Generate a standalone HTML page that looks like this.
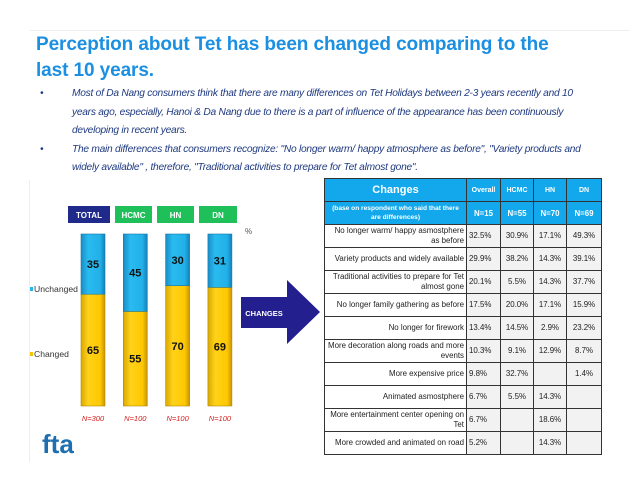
<!DOCTYPE html>
<html><head><meta charset="utf-8"><style>
body{margin:0;width:638px;height:493px;background:#fff;font-family:"Liberation Sans",sans-serif;position:relative;overflow:hidden}
.abs{position:absolute}
#title{left:36px;top:32px;font-size:19px;font-weight:bold;color:#1b8fe2;line-height:26px;width:550px;letter-spacing:-0.1px}
#bul{left:40px;top:85px;width:556px;font-size:10.2px;font-style:italic;color:#1f3a80;line-height:18.6px;letter-spacing:-0.25px}
#bul div{position:relative;padding-left:32px}
#bul div span{position:absolute;left:0}
table{border-collapse:collapse;font-size:7.9px;color:#222;table-layout:fixed}
td{border:1px solid #333;padding:0 2px;height:22px;overflow:hidden}
.h td{background:#13a8ec;color:#fff;font-weight:bold;text-align:center}
</style></head><body>
<div class="abs" style="left:30px;top:30px;width:600px;height:1px;background:#eee"></div>
<div class="abs" style="left:29px;top:180px;width:1px;height:282px;background:#eee"></div>
<div id="title" class="abs">Perception about Tet has been changed comparing to the last 10 years.</div>
<div id="bul" class="abs">
<div><span>•</span>Most of Da Nang consumers think that there are many differences on Tet Holidays between 2-3 years recently and 10 years ago, especially, Hanoi &amp; Da Nang due to there is a part of influence of the appearance has been continuously developing in recent years.</div>
<div><span>•</span>The main differences that consumers recognize: "No longer warm/ happy atmosphere as before", "Variety products and widely available" , therefore, "Traditional activities to prepare for Tet almost gone".</div>
</div>
<svg class="abs" style="left:0;top:0" width="638" height="493" id="chart">
<defs>
<linearGradient id="gy" x1="0" x2="1"><stop offset="0" stop-color="#d9a800"/><stop offset=".3" stop-color="#ffd21a"/><stop offset=".8" stop-color="#ffc800"/><stop offset="1" stop-color="#c89400"/></linearGradient>
<linearGradient id="gb" x1="0" x2="1"><stop offset="0" stop-color="#1a8cc8"/><stop offset=".3" stop-color="#29bbf0"/><stop offset=".8" stop-color="#22b0e8"/><stop offset="1" stop-color="#1480b8"/></linearGradient>
</defs>
<g id="bars"></g>
<text x="245" y="234" font-size="8" fill="#555">%</text>
<rect x="30" y="287" width="3" height="4" fill="#29b6ee"/>
<text x="34" y="292" font-size="8.6" fill="#333">Unchanged</text>
<rect x="30" y="352" width="3" height="4" fill="#f5c400"/>
<text x="34" y="357" font-size="8.6" fill="#333">Changed</text>
<polygon points="241,297 287,297 287,280 320,312 287,344 287,328 241,328" fill="#231f8f"/>
<text x="264" y="316" font-size="7.5" font-weight="bold" fill="#fff" text-anchor="middle">CHANGES</text>
<text x="42" y="453" font-size="26" font-weight="bold" fill="#1f6fb0">fta</text>
</svg>
<table class="abs" style="left:324px;top:178px;width:277px">
<colgroup><col style="width:142px"><col style="width:34px"><col style="width:33px"><col style="width:33px"><col style="width:35px"></colgroup>
<tr class="h"><td style="font-size:11px">Changes</td><td style="font-size:7px">Overall</td><td style="font-size:7px">HCMC</td><td style="font-size:7px">HN</td><td style="font-size:7px">DN</td></tr>
<tr class="h"><td style="font-size:6.6px;line-height:9px">(base on respondent who said that there are differences)</td><td>N=15</td><td>N=55</td><td>N=70</td><td>N=69</td></tr>
<tbody id="tb"></tbody>
</table>
<script>
const cats=["TOTAL","HCMC","HN","DN"];
const changed=[65,55,70,69];
const unchanged=[35,45,30,31];
const ns=["N=300","N=100","N=100","N=100"];
const rowLabels=["No longer warm/ happy asmostphere as before","Variety products and widely available","Traditional activities to prepare for Tet almost gone","No longer family gathering as before","No longer for firework","More decoration along roads and more events","More expensive price","Animated asmostphere","More entertainment center opening on Tet","More crowded and animated on road"];
const overall=["32.5%","29.9%","20.1%","17.5%","13.4%","10.3%","9.8%","6.7%","6.7%","5.2%"];
const hcmc=["30.9%","38.2%","5.5%","20.0%","14.5%","9.1%","32.7%","5.5%","",""];
const hn=["17.1%","14.3%","14.3%","17.1%","2.9%","12.9%","","14.3%","18.6%","14.3%"];
const dn=["49.3%","39.1%","37.7%","15.9%","23.2%","8.7%","1.4%","","",""];
const NS="http://www.w3.org/2000/svg";
const g=document.getElementById('bars');
const y=v=>406-v*1.72; const bx=i=>81+i*42.3; const bw=24;
function el(t,a,txt){const e=document.createElementNS(NS,t);for(const k in a)e.setAttribute(k,a[k]);if(txt!==undefined)e.textContent=txt;g.appendChild(e);return e;}
cats.forEach((c,i)=>{
 const hx=[68,115,157,199][i], hw=[42,37,37,38][i];
 const h=el('rect',{x:hx,y:206,width:hw,height:17,fill:i==0?'#1f2a8a':'#1fbf5a'});
 
 
 const ht=el('text',{x:hx+hw/2,y:218,'font-size':8,'font-weight':'bold',fill:'#fff','text-anchor':'middle'},c);
 
 
 const x=bx(i);
 const yc=el('rect',{x:x,y:y(changed[i]),width:bw,height:406-y(changed[i]),fill:'url(#gy)',stroke:'#b08a00','stroke-width':.6});
 
 
 const top=y(changed[i]+unchanged[i]);
 const bu=el('rect',{x:x,y:top,width:bw,height:y(changed[i])-top,fill:'url(#gb)',stroke:'#1478a8','stroke-width':.6});
 
 
 const t1=el('text',{x:x+bw/2,y:(top+y(changed[i]))/2+4,'font-size':11,'font-weight':'bold',fill:'#111','text-anchor':'middle'},unchanged[i]);
 
 
 const t2=el('text',{x:x+bw/2,y:(y(changed[i])+406)/2+4,'font-size':11,'font-weight':'bold',fill:'#111','text-anchor':'middle'},changed[i]);
 
 
 const nt=el('text',{x:x+bw/2,y:421,'font-size':7.5,'font-style':'italic',fill:'#d62020','text-anchor':'middle'},ns[i]);
 
 
});
const tb=document.getElementById('tb');
rowLabels.forEach((l,i)=>{
 const tr=document.createElement('tr');
 
 
 const cells=[l,overall[i],hcmc[i],hn[i],dn[i]];
 cells.forEach((v,j)=>{const td=document.createElement('td');td.textContent=v;
  td.style.textAlign=j==0?'right':(j==1?'left':'center');td.style.lineHeight='10px';td.style.background=j==0?'#fff':'#f2f2f2';tr.appendChild(td);});
 tb.appendChild(tr);
});
</script>
</body></html>
